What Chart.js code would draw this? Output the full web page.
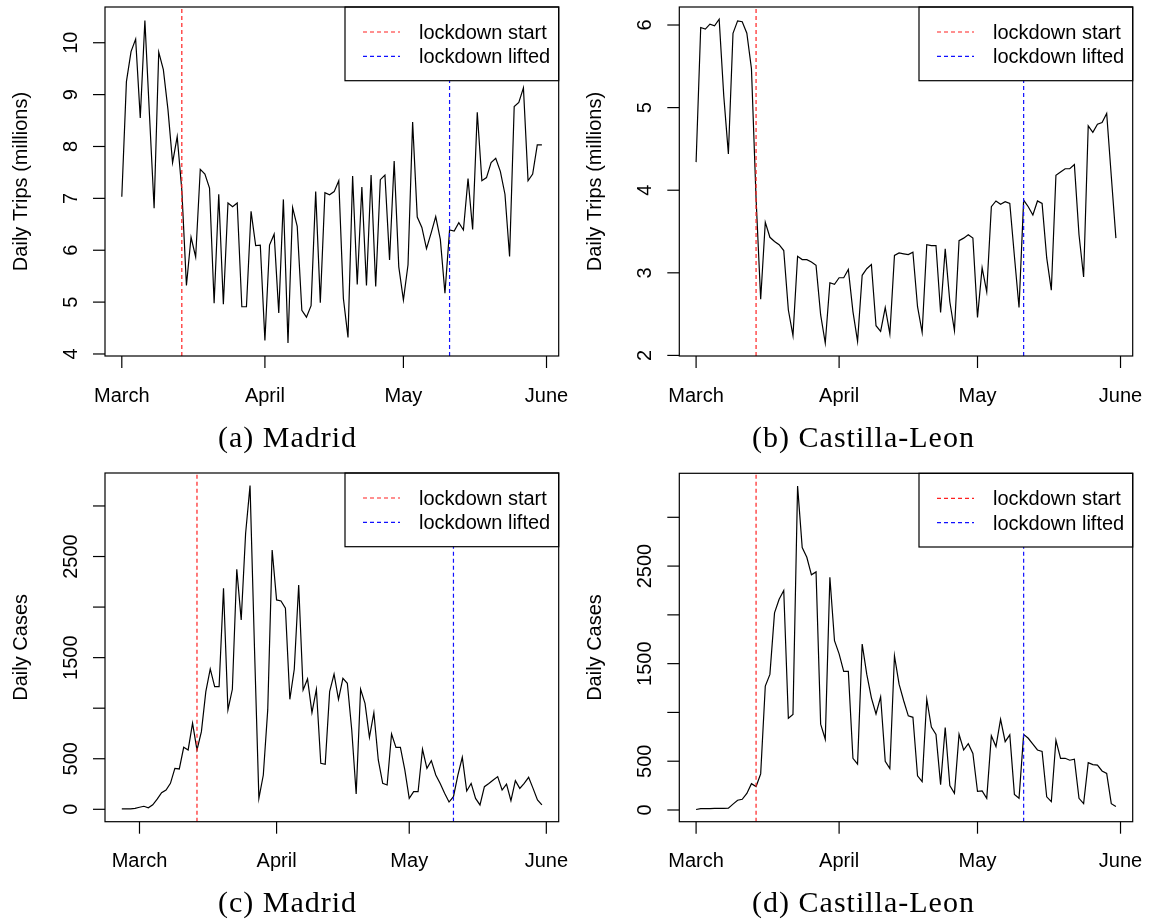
<!DOCTYPE html>
<html lang="en">
<head>
<meta charset="UTF-8">
<title>Daily trips and daily cases, Madrid and Castilla-Leon</title>
<script src="https://cdn.jsdelivr.net/npm/chart.js"></script>
<style>
    body {
        margin: 0;
        background: #fff;
        width: 1151px;
        height: 924px;
        position: relative;
        overflow: hidden;
    }
    canvas {
        position: absolute;
    }
    .caption {
        position: absolute;
        width: 575px;
        text-align: center;
        font-family: "Liberation Serif", "Times New Roman", serif;
        font-size: 30px;
        line-height: 30px;
        letter-spacing: 1px;
        color: #000;
    }
</style>
</head>
<body>
<canvas id="tripsMadrid" width="575" height="460" style="left:0;top:0"></canvas>
<canvas id="tripsCastilla" width="576" height="460" style="left:575px;top:0"></canvas>
<canvas id="casesMadrid" width="575" height="462" style="left:0;top:462px"></canvas>
<canvas id="casesCastilla" width="576" height="462" style="left:575px;top:462px"></canvas>

<div class="caption" style="left:0;top:422px">(a) Madrid</div>
<div class="caption" style="left:576px;top:422px">(b) Castilla-Leon</div>
<div class="caption" style="left:0;top:887px">(c) Madrid</div>
<div class="caption" style="left:576px;top:887px">(d) Castilla-Leon</div>

<script>
// days counted from 1 March 2020
const monthTicks = [0, 31, 61, 92];
const monthLabels = ['March', 'April', 'May', 'June'];
const lockdownStart = 13;   // 14 March
const lockdownLifted = 71;  // 11 May

// daily trips (millions), 1 March .. 31 May
const madridTrips = [
    7.03, 9.25, 9.83, 10.07, 8.55, 10.43, 8.6, 6.81, 9.82, 9.48,
    8.71, 7.69, 8.19, 7.16, 5.32, 6.25, 5.87, 7.56, 7.47, 7.2,
    4.98, 7.08, 4.96, 6.91, 6.84, 6.91, 4.91, 4.91, 6.75, 6.09,
    6.1, 4.26, 6.1, 6.31, 4.79, 6.98, 4.21, 6.82, 6.46, 4.84,
    4.71, 4.93, 7.13, 4.99, 7.11, 7.07, 7.13, 7.34, 5.07, 4.32,
    7.43, 5.34, 7.22, 5.32, 7.45, 5.3, 7.36, 7.45, 5.81, 7.72,
    5.68, 5.04, 5.72, 8.47, 6.64, 6.44, 6.03, 6.33, 6.65, 6.21,
    5.17, 6.39, 6.37, 6.53, 6.39, 7.38, 6.4, 8.66, 7.34, 7.4,
    7.69, 7.77, 7.52, 7.08, 5.88, 8.77, 8.85, 9.13, 7.34, 7.47,
    8.03, 8.03
];
const castillaTrips = [
    4.34, 5.97, 5.95, 6.01, 5.99, 6.07, 5.14, 4.44, 5.9, 6.05,
    6.04, 5.9, 5.47, 3.9, 2.68, 3.61, 3.43, 3.38, 3.34, 3.27,
    2.55, 2.24, 3.2, 3.16, 3.16, 3.13, 3.09, 2.49, 2.15, 2.88,
    2.86, 2.94, 2.94, 3.04, 2.53, 2.17, 2.97, 3.05, 3.1, 2.36,
    2.29, 2.58, 2.26, 3.21, 3.24, 3.23, 3.22, 3.25, 2.59, 2.28,
    3.34, 3.33, 3.33, 2.52, 3.29, 2.65, 2.3, 3.39, 3.42, 3.46,
    3.42, 2.46, 3.06, 2.77, 3.8, 3.87, 3.83, 3.86, 3.84, 3.2,
    2.58, 3.88, 3.8, 3.7, 3.87, 3.84, 3.18, 2.79, 4.18, 4.22,
    4.26, 4.26, 4.31, 3.46, 2.95, 4.78, 4.7, 4.8, 4.82, 4.93,
    4.17, 3.42
];

// daily cases; Madrid series starts 26 February (day -4)
const madridCasesStart = -4;
const madridCases = [
    5, 5, 5, 10,
    20, 30, 15, 45, 100, 164, 191, 257, 405, 399,
    613, 587, 851, 587, 768, 1164, 1388, 1213, 1213, 2186,
    983, 1187, 2374, 1873, 2730, 3201, 1600, 108, 339, 983,
    2565, 2071, 2061, 1989, 1088, 1385, 2219, 1180, 1289, 956,
    1187, 455, 445, 1164, 1336, 1088, 1296, 1246, 785, 151,
    1187, 1048, 712, 956, 488, 256, 240, 745, 613, 613,
    389, 108, 174, 174, 594, 405, 481, 339, 256, 158,
    72, 125, 339, 514, 181, 256, 108, 43, 224, 256,
    290, 323, 191, 250, 86, 283, 207, 256, 316, 207,
    92, 43
];
const castillaCasesStart = 0;
const castillaCases = [
    5, 14, 14, 15, 16, 16, 17, 18, 60, 100,
    110, 170, 270, 240, 370, 1270, 1390, 2020, 2160, 2250,
    940, 980, 3320, 2690, 2590, 2410, 2440, 880, 725, 2385,
    1735, 1600, 1420, 1420, 530, 470, 1700, 1390, 1150, 985,
    1160, 500, 425, 1580, 1290, 1120, 965, 950, 350, 290,
    1135, 850, 775, 260, 845, 250, 170, 775, 615, 680,
    580, 190, 195, 120, 760, 650, 930, 700, 770, 160,
    120, 775, 735, 675, 615, 600, 135, 85, 715, 530,
    530, 510, 520, 120, 65, 485, 465, 460, 400, 375,
    65, 35
];

const tripTicksMadrid = [4, 5, 6, 7, 8, 9, 10];
const tripTicksCastilla = [2, 3, 4, 5, 6];
const caseTicks = [0, 500, 1000, 1500, 2000, 2500, 3000];
const caseTickLabels = ['0', '500', '', '1500', '', '2500', ''];

const FONT = '20px "Liberation Sans", Arial, Helvetica, sans-serif';

// R-like box, axes, labels and legend drawn on the chart's own scales
const rStyle = {
    id: 'rStyle',
    afterDatasetsDraw(chart) {
        const { ctx, chartArea: a } = chart;
        const w = 213.7, h = 73.7;
        const lx = a.right - w, ly = a.top;
        ctx.save();
        ctx.fillStyle = '#fff';
        ctx.fillRect(lx, ly, w, h);
        ctx.strokeStyle = '#000';
        ctx.lineWidth = 1.2;
        ctx.strokeRect(lx, ly, w, h);
        const items = chart.data.datasets.filter(d => d.inLegend);
        ctx.font = FONT;
        ctx.textAlign = 'left';
        ctx.textBaseline = 'alphabetic';
        items.forEach((d, i) => {
            const ry = ly + 25 + i * 24.4;
            ctx.strokeStyle = d.borderColor;
            ctx.lineWidth = 1.2;
            ctx.setLineDash(d.borderDash);
            ctx.beginPath();
            ctx.moveTo(lx + 18, ry);
            ctx.lineTo(lx + 55, ry);
            ctx.stroke();
            ctx.setLineDash([]);
            ctx.fillStyle = '#000';
            ctx.fillText(d.label, lx + 74, ry + 7);
        });
        ctx.restore();
    },
    afterDraw(chart, args, o) {
        const { ctx, chartArea: a, scales: { x, y } } = chart;
        ctx.save();
        ctx.strokeStyle = '#000';
        ctx.lineWidth = 1.2;
        ctx.strokeRect(a.left, a.top, a.right - a.left, a.bottom - a.top);
        ctx.fillStyle = '#000';
        ctx.font = FONT;

        // y axis
        o.yTicks.forEach((v, i) => {
            const py = y.getPixelForValue(v);
            ctx.beginPath();
            ctx.moveTo(a.left - 12, py);
            ctx.lineTo(a.left, py);
            ctx.stroke();
            const lab = o.yLabels[i];
            if (lab) {
                ctx.save();
                ctx.translate(a.left - 28, py);
                ctx.rotate(-Math.PI / 2);
                ctx.textAlign = 'center';
                ctx.textBaseline = 'alphabetic';
                ctx.fillText(lab, 0, 0);
                ctx.restore();
            }
        });
        ctx.save();
        ctx.translate(a.left - 78, (a.top + a.bottom) / 2);
        ctx.rotate(-Math.PI / 2);
        ctx.textAlign = 'center';
        ctx.textBaseline = 'alphabetic';
        ctx.fillText(o.yTitle, 0, 0);
        ctx.restore();

        // x axis
        ctx.textAlign = 'center';
        ctx.textBaseline = 'alphabetic';
        monthTicks.forEach((v, i) => {
            const px = x.getPixelForValue(v);
            ctx.beginPath();
            ctx.moveTo(px, a.bottom);
            ctx.lineTo(px, a.bottom + 12);
            ctx.stroke();
            ctx.fillText(monthLabels[i], px, a.bottom + 45.5);
        });
        ctx.restore();
    }
};

function makePanel(id, p) {
    const series = p.values.map((v, i) => ({ x: p.start + i, y: v }));
    const vline = (day, label, color) => ({
        label: label,
        inLegend: true,
        data: [{ x: day, y: p.yMin }, { x: day, y: p.yMax }],
        borderColor: color,
        borderWidth: 1.2,
        borderDash: [4, 3],
        pointRadius: 0,
        order: 0
    });
    new Chart(document.getElementById(id), {
        type: 'line',
        data: {
            datasets: [
                {
                    label: p.title,
                    data: series,
                    borderColor: '#000',
                    borderWidth: 1.2,
                    pointRadius: 0,
                    tension: 0,
                    order: 1
                },
                vline(lockdownStart, 'lockdown start', '#ff2020'),
                vline(lockdownLifted, 'lockdown lifted', '#1010ff')
            ]
        },
        options: {
            responsive: false,
            animation: false,
            devicePixelRatio: 1,
            layout: { padding: p.pad },
            scales: {
                x: { type: 'linear', display: false, min: p.xMin, max: p.xMax },
                y: { type: 'linear', display: false, min: p.yMin, max: p.yMax }
            },
            plugins: {
                legend: { display: false },
                tooltip: { enabled: false },
                rStyle: { yTicks: p.yTicks, yLabels: p.yLabels, yTitle: p.title }
            }
        },
        plugins: [rStyle]
    });
}

makePanel('tripsMadrid', {
    values: madridTrips, start: 0,
    xMin: -3.64, xMax: 94.64, yMin: 3.961, yMax: 10.689,
    yTicks: tripTicksMadrid, yLabels: tripTicksMadrid.map(String),
    title: 'Daily Trips (millions)',
    pad: { left: 105, top: 7, right: 16.3, bottom: 104 }
});
makePanel('tripsCastilla', {
    values: castillaTrips, start: 0,
    xMin: -3.64, xMax: 94.64, yMin: 1.993, yMax: 6.218,
    yTicks: tripTicksCastilla, yLabels: tripTicksCastilla.map(String),
    title: 'Daily Trips (millions)',
    pad: { left: 104.3, top: 7, right: 18.3, bottom: 104 }
});
makePanel('casesMadrid', {
    values: madridCases, start: madridCasesStart,
    xMin: -7.8, xMax: 94.8, yMin: -122.6, yMax: 3326,
    yTicks: caseTicks, yLabels: caseTickLabels,
    title: 'Daily Cases',
    pad: { left: 105, top: 11, right: 16.3, bottom: 102.3 }
});
makePanel('casesCastilla', {
    values: castillaCases, start: castillaCasesStart,
    xMin: -3.64, xMax: 94.64, yMin: -120, yMax: 3451,
    yTicks: caseTicks, yLabels: caseTickLabels,
    title: 'Daily Cases',
    pad: { left: 104.3, top: 11.3, right: 18.3, bottom: 102.3 }
});
</script>
</body>
</html>
